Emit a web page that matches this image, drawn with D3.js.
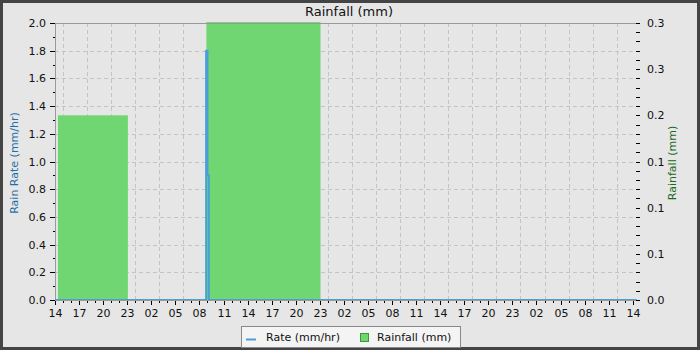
<!DOCTYPE html>
<html>
<head>
<meta charset="utf-8">
<script src="https://cdn.jsdelivr.net/npm/d3@7"></script>
<style>
  body { margin: 0; background: #fff; }
  svg { display: block; font-family: "DejaVu Sans", sans-serif; }
</style>
</head>
<body>
<div class="svg-container"></div>
<script>
// ---- data ----
var timeDomain = ["2024-03-01T14:00", "2024-03-04T14:54"];
var rainStart = ["2024-03-01T14:22", "2024-03-02T08:52"];
var rainEnd = ["2024-03-01T23:05", "2024-03-02T23:05"];
var rainValues = [0.2, 0.301];
var rateTimes = ["2024-03-01T14:00", "2024-03-02T08:50", "2024-03-02T09:00", "2024-03-02T09:10", "2024-03-04T14:30"];
var rateValues = [0, 1.8, 0.9, 0, 0];
var leftTicks = [0, 0.2, 0.4, 0.6, 0.8, 1.0, 1.2, 1.4, 1.6, 1.8, 2.0];
var rightTicks = [0, 0.05, 0.1, 0.15, 0.2, 0.25, 0.3];

var W = 700, H = 350;
var m = {left: 55, right: 640, top: 23, bottom: 300};
var parse = d3.isoParse;

var svg = d3.select(".svg-container").append("svg")
    .attr("width", W).attr("height", H);

svg.append("rect").attr("x", 1.5).attr("y", 1.5).attr("width", W - 3).attr("height", H - 3)
    .attr("fill", "#e6e6e6").attr("stroke", "#444").attr("stroke-width", 3);

var x = d3.scaleTime().domain(timeDomain.map(parse)).range([m.left, m.right]);
var yL = d3.scaleLinear().domain([0, 2]).range([m.bottom, m.top]);
var yR = d3.scaleLinear().domain([0, 0.3]).range([m.bottom, m.top]);

// grid
var grid = svg.append("g").attr("stroke", "#c4c4c4").attr("stroke-dasharray", "4,3").attr("stroke-width", 1);
x.ticks(d3.timeHour.every(3)).forEach(function(t) {
    var px = Math.round(x(t)) + 0.5;
    if (px <= m.left + 1) return;
    grid.append("line").attr("x1", px).attr("x2", px).attr("y1", m.top).attr("y2", m.bottom);
});
leftTicks.slice(1, -1).forEach(function(v) {
    var py = Math.round(yL(v)) + 0.5;
    grid.append("line").attr("x1", m.left).attr("x2", m.right).attr("y1", py).attr("y2", py);
});

// rainfall bars
svg.append("g").selectAll("rect").data(rainValues).enter().append("rect")
    .attr("x", function(d, i) { return x(parse(rainStart[i])); })
    .attr("width", function(d, i) { return x(parse(rainEnd[i])) - x(parse(rainStart[i])); })
    .attr("y", function(d) { return yR(d); })
    .attr("height", function(d) { return m.bottom - yR(d); })
    .attr("fill", "#6fd672");

// frame lines
svg.append("line").attr("x1", m.left).attr("x2", m.right).attr("y1", m.top + 0.5).attr("y2", m.top + 0.5)
    .attr("stroke", "#999");
svg.append("line").attr("x1", m.left + 0.5).attr("x2", m.left + 0.5).attr("y1", m.top).attr("y2", m.bottom)
    .attr("stroke", "#999");

// rate line
var rateLine = d3.line()
    .x(function(d, i) { return x(parse(rateTimes[i])); })
    .y(function(d) { return yL(d); })
    .curve(d3.curveStepAfter);
svg.append("path").attr("d", rateLine(rateValues))
    .attr("fill", "none").attr("stroke", "#4a9fd9").attr("stroke-width", 2);

// x axis
var xAxis = svg.append("g").attr("transform", "translate(0," + m.bottom + ")");
xAxis.append("line").attr("x1", m.left).attr("x2", m.right).attr("y1", 0.5).attr("y2", 0.5).attr("stroke", "#999");
x.ticks(d3.timeHour.every(1)).forEach(function(t) {
    var px = Math.round(x(t)) + 0.5;
    var major = t.getHours() % 3 === 2;
    xAxis.append("line").attr("x1", px).attr("x2", px).attr("y1", 1).attr("y2", major ? 5 : 3)
        .attr("stroke", "#000");
    if (major) {
        xAxis.append("text").attr("x", px).attr("y", 17).attr("text-anchor", "middle")
            .attr("font-size", 11).attr("fill", "#111").text(d3.timeFormat("%H")(t));
    }
});

// left axis
var lAxis = svg.append("g");
d3.range(0, 21).forEach(function(k) {
    var py = Math.round(yL(k / 10)) + 0.5;
    lAxis.append("line").attr("x1", k % 2 === 0 ? m.left - 5 : m.left - 2).attr("x2", m.left)
        .attr("y1", py).attr("y2", py).attr("stroke", "#000");
});
lAxis.selectAll("text").data(leftTicks).enter().append("text")
    .attr("x", m.left - 9).attr("y", function(d) { return yL(d) + 4; })
    .attr("text-anchor", "end").attr("font-size", 11).attr("fill", "#111")
    .text(function(d) { return d.toFixed(1); });

// right axis
var rAxis = svg.append("g");
d3.range(0, 31).forEach(function(k) {
    var py = Math.round(yR(k / 100)) + 0.5;
    rAxis.append("line").attr("x1", m.right - 4).attr("x2", m.right)
        .attr("y1", py).attr("y2", py).attr("stroke", "#000");
});
rAxis.selectAll("text").data(rightTicks).enter().append("text")
    .attr("x", m.right + 7).attr("y", function(d) { return yR(d) + 4; })
    .attr("font-size", 11).attr("fill", "#111")
    .text(function(d) { return d.toFixed(1); });

// titles
svg.append("text").attr("x", 349).attr("y", 16).attr("text-anchor", "middle")
    .attr("font-size", 13).attr("fill", "#111").text("Rainfall (mm)");
svg.append("text").attr("transform", "translate(18,163) rotate(-90)").attr("text-anchor", "middle")
    .attr("font-size", 11).attr("fill", "#1f6fa8").text("Rain Rate (mm/hr)");
svg.append("text").attr("transform", "translate(676,163) rotate(-90)").attr("text-anchor", "middle")
    .attr("font-size", 11).attr("fill", "#1a6b1a").text("Rainfall (mm)");

// legend
var leg = svg.append("g");
leg.append("rect").attr("x", 241.5).attr("y", 326.5).attr("width", 219).attr("height", 21)
    .attr("fill", "#f4f4f4").attr("stroke", "#888");
leg.append("line").attr("x1", 246).attr("x2", 256).attr("y1", 339.5).attr("y2", 339.5)
    .attr("stroke", "#4a9fd9").attr("stroke-width", 2);
leg.append("text").attr("x", 266).attr("y", 341).attr("font-size", 11).attr("fill", "#111").text("Rate (mm/hr)");
leg.append("rect").attr("x", 360.5).attr("y", 333.5).attr("width", 8).attr("height", 8)
    .attr("fill", "#6fd672").attr("stroke", "#3a9a3a");
leg.append("text").attr("x", 377).attr("y", 341).attr("font-size", 11).attr("fill", "#111").text("Rainfall (mm)");
</script>
</body>
</html>
